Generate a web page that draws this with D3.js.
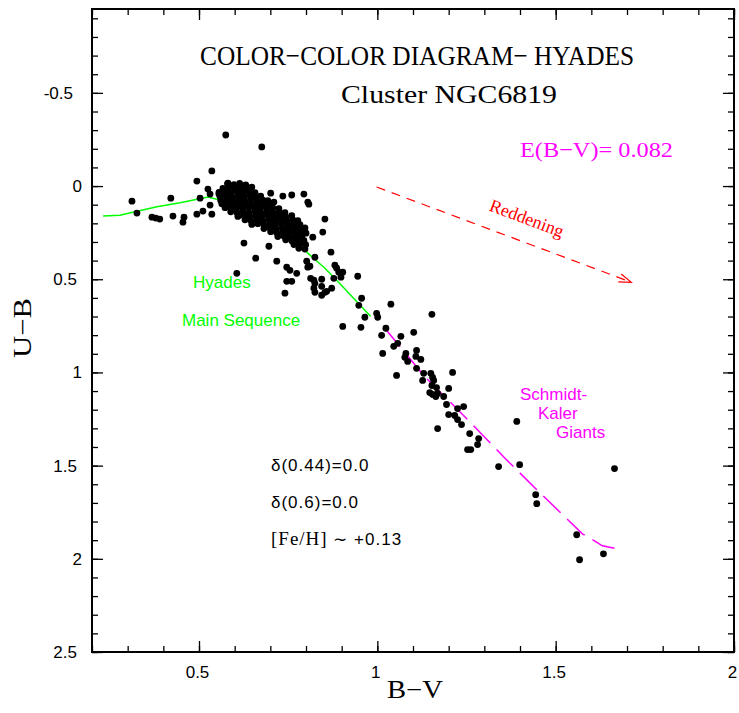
<!DOCTYPE html>
<html lang="en">
<head>
<meta charset="UTF-8">
<title>Color-color diagram - NGC6819</title>
<script src="https://d3js.org/d3.v7.min.js"></script>
<style>
  body { margin: 0; background: #fff; }
  svg { display: block; background: #fff; }
  .serif { font-family: "Liberation Serif", "DejaVu Serif", serif; }
  .sans { font-family: "Liberation Sans", Arial, sans-serif; }
  .tick line { stroke: #000; stroke-width: 1.3px; }
  .tick text { font-family: "Liberation Sans", Arial, sans-serif; font-size: 17px; fill: #000; }
</style>
</head>
<body>
<div id="chart"></div>
<script>
// tick labels
const xTicks = [0.5, 1, 1.5, 2];
const yTicks = [-0.5, 0, 0.5, 1, 1.5, 2, 2.5];

// Hyades main sequence (green)
const hyadesBV = [0.231, 0.278, 0.382, 0.447, 0.525, 0.581, 0.690, 0.777, 0.805, 0.853, 0.886, 0.981];
const hyadesUB = [0.161, 0.156, 0.111, 0.090, 0.059, 0.086, 0.199, 0.306, 0.360, 0.441, 0.505, 0.699];

// Schmidt-Kaler giants (magenta, dashed)
const giantsBV = [1.021, 1.133, 1.250, 1.362, 1.447, 1.575, 1.595, 1.631, 1.673];
const giantsUB = [0.763, 1.022, 1.247, 1.468, 1.629, 1.866, 1.887, 1.930, 1.946];

// reddening vector
const reddeningBV = [0.998, 1.712];
const reddeningUB = [0.005, 0.516];

// stars outside the dense core  [B-V, U-B]
const fieldStars = [
  [0.312,0.081],[0.326,0.145],[0.368,0.167],[0.379,0.172],[0.390,0.177],[0.421,0.065],[0.427,0.161],
  [0.455,0.194],[0.458,0.167],[0.494,-0.027],[0.503,0.065],[0.494,0.151],[0.511,0.134],[0.525,0.016],
  [0.531,0.043],[0.531,0.102],[0.536,0.151],[0.536,-0.081],[0.556,0.043],[0.575,-0.274],[0.676,-0.210],
  [0.581,-0.016],
  [0.701,0.038],[0.760,0.048],[0.794,0.043],[0.805,0.086],[0.808,0.097],[0.735,0.054],[0.710,0.086],
  [0.853,0.177],[0.847,0.247],[0.819,0.274],[0.626,0.306],[0.659,0.387],[0.718,0.403],[0.606,0.468],
  [0.696,0.323],[0.870,0.355],[0.825,0.382],[0.802,0.403],[0.805,0.435],[0.746,0.435],[0.755,0.452],
  [0.774,0.468],[0.813,0.495],[0.822,0.505],[0.746,0.511],[0.760,0.511],[0.741,0.575],[0.822,0.548],
  [0.825,0.570],[0.844,0.500],[0.844,0.538],[0.853,0.570],[0.844,0.586],[0.858,0.565],[0.872,0.548],
  [0.881,0.425],[0.886,0.441],[0.892,0.462],[0.903,0.462],[0.878,0.495],[0.898,0.489],[0.945,0.484],
  [0.956,0.602],[0.948,0.640],[0.965,0.704],[0.998,0.683],[1.001,0.704],[0.811,0.430],[0.825,0.522],
  [0.903,0.753],[0.954,0.758],[1.038,0.634],[1.024,0.763],[1.012,0.801],[1.066,0.806],[1.102,0.785],
  [1.153,0.688],[1.057,0.844],[1.046,0.860],[1.015,0.898],[1.080,0.898],[1.077,0.919],[1.085,0.941],
  [1.110,0.882],[1.108,0.914],[1.122,0.930],[1.054,1.016],[1.110,0.978],[1.130,1.005],[1.127,1.043],
  [1.150,1.005],[1.155,1.027],[1.158,1.043],[1.153,1.070],[1.166,1.081],[1.147,1.108],[1.155,1.118],
  [1.164,1.129],[1.169,1.113],[1.186,1.129],[1.211,1.000],[1.200,1.086],[1.194,1.172],[1.200,1.226],
  [1.225,1.194],[1.242,1.183],[1.217,1.231],[1.225,1.253],[1.236,1.280],[1.169,1.301],[1.259,1.328],
  [1.284,1.355],[1.281,1.387],[1.253,1.414],[1.262,1.414],[1.391,1.263],[1.340,1.505],[1.399,1.495],
  [1.665,1.516],[1.444,1.656],[1.447,1.704],[1.559,1.871],[1.567,2.005],[1.634,1.973]
];

// the crowded cluster core  [B-V, U-B]
const coreStars = [
  [0.580,-0.012],[0.598,-0.008],[0.614,-0.014],[0.631,-0.006],
  [0.567,0.012],[0.584,0.008],[0.601,0.014],[0.617,0.009],[0.634,0.013],[0.648,0.006],
  [0.556,0.034],[0.573,0.030],[0.589,0.035],[0.606,0.029],[0.623,0.033],[0.640,0.031],[0.657,0.036],
  [0.559,0.056],[0.575,0.052],[0.592,0.057],[0.609,0.053],[0.626,0.055],[0.643,0.051],[0.659,0.058],[0.673,0.054],
  [0.561,0.077],[0.578,0.073],[0.595,0.078],[0.612,0.074],[0.628,0.076],[0.645,0.072],[0.662,0.079],[0.679,0.075],[0.693,0.078],
  [0.564,0.095],[0.581,0.099],[0.598,0.096],[0.615,0.100],[0.631,0.094],[0.648,0.098],[0.665,0.095],[0.682,0.099],[0.699,0.096],
  [0.573,0.116],[0.589,0.120],[0.606,0.117],[0.623,0.121],[0.640,0.115],[0.657,0.119],[0.673,0.116],[0.690,0.120],[0.707,0.117],[0.724,0.121],
  [0.589,0.138],[0.606,0.142],[0.623,0.139],[0.640,0.143],[0.657,0.137],[0.673,0.141],[0.690,0.138],[0.707,0.142],[0.724,0.139],[0.741,0.143],
  [0.609,0.163],[0.626,0.159],[0.643,0.164],[0.659,0.160],[0.676,0.162],[0.693,0.158],[0.710,0.163],[0.727,0.160],[0.743,0.164],[0.760,0.159],
  [0.629,0.181],[0.645,0.185],[0.662,0.182],[0.679,0.186],[0.696,0.180],[0.713,0.184],[0.729,0.181],[0.746,0.185],[0.763,0.182],[0.777,0.186],
  [0.648,0.206],[0.665,0.202],[0.682,0.207],[0.699,0.203],[0.715,0.205],[0.732,0.201],[0.749,0.206],[0.766,0.203],[0.783,0.207],
  [0.682,0.228],[0.699,0.225],[0.715,0.229],[0.732,0.223],[0.749,0.227],[0.766,0.224],[0.783,0.228],[0.797,0.225],
  [0.701,0.245],[0.718,0.250],[0.735,0.246],[0.752,0.248],[0.768,0.244],[0.785,0.249],[0.800,0.253],
  [0.721,0.271],[0.738,0.268],[0.755,0.272],[0.771,0.266],[0.788,0.270],
  [0.743,0.288],[0.760,0.293],[0.777,0.289],[0.794,0.291],
  [0.766,0.314],[0.783,0.311],[0.799,0.315],
  [0.780,0.334],[0.797,0.338]
];

const width = 739, height = 713;
const plot = { left: 92, right: 734, top: 9, bottom: 652 };
const green = "#00ff00", magenta = "#ff00ff", red = "#ff0000";

const x = d3.scaleLinear().domain([0.2, 2.0]).range([plot.left, plot.right]);
const y = d3.scaleLinear().domain([-0.95, 2.5]).range([plot.top, plot.bottom]);
const fmt = d => String(d); // plain hyphen for negatives, as in the original

const svg = d3.select("#chart").append("svg")
    .attr("width", width)
    .attr("height", height);

// ticks, all pointing inward
const noDomain = g => g.select(".domain").remove();

svg.append("g").attr("transform", `translate(0,${plot.bottom})`)
    .call(d3.axisBottom(x).ticks(18).tickSize(-6).tickFormat("")).call(noDomain);
svg.append("g").attr("transform", `translate(0,${plot.bottom})`)
    .call(d3.axisBottom(x).tickValues(xTicks).tickSize(-11).tickPadding(14).tickFormat(fmt))
    .call(noDomain)
    .selectAll("text").attr("dx", "-2");

svg.append("g").attr("transform", `translate(0,${plot.top})`)
    .call(d3.axisTop(x).ticks(18).tickSize(-6).tickFormat("")).call(noDomain);
svg.append("g").attr("transform", `translate(0,${plot.top})`)
    .call(d3.axisTop(x).tickValues(xTicks).tickSize(-11).tickFormat("")).call(noDomain);

svg.append("g").attr("transform", `translate(${plot.left},0)`)
    .call(d3.axisLeft(y).ticks(34).tickSize(-6).tickFormat("")).call(noDomain);
svg.append("g").attr("transform", `translate(${plot.left},0)`)
    .call(d3.axisLeft(y).tickValues(yTicks).tickSize(-11).tickFormat(fmt))
    .call(noDomain)
    .selectAll("text")
    .attr("x", d => d < 0 ? -19 : Number.isInteger(d) ? -10 : -15);

svg.append("g").attr("transform", `translate(${plot.right},0)`)
    .call(d3.axisRight(y).ticks(34).tickSize(-6).tickFormat("")).call(noDomain);
svg.append("g").attr("transform", `translate(${plot.right},0)`)
    .call(d3.axisRight(y).tickValues(yTicks).tickSize(-11).tickFormat("")).call(noDomain);

// frame
svg.append("rect")
    .attr("x", plot.left).attr("y", plot.top)
    .attr("width", plot.right - plot.left).attr("height", plot.bottom - plot.top)
    .attr("fill", "none").attr("stroke", "#000").attr("stroke-width", 2);

// curves
const line = d3.line().x(d => x(d[0])).y(d => y(d[1]));

svg.append("path")
    .datum(d3.zip(hyadesBV, hyadesUB))
    .attr("d", line)
    .attr("fill", "none").attr("stroke", green).attr("stroke-width", 1.5);

svg.append("path")
    .datum(d3.zip(giantsBV, giantsUB))
    .attr("d", line)
    .attr("fill", "none").attr("stroke", magenta).attr("stroke-width", 1.5)
    .attr("stroke-dasharray", "24,9");

// stars
svg.append("g").selectAll("circle")
    .data(coreStars.concat(fieldStars))
    .join("circle")
    .attr("cx", d => x(d[0]))
    .attr("cy", d => y(d[1]))
    .attr("r", 3.4)
    .attr("fill", "#000");

// reddening arrow
const red0 = [x(reddeningBV[0]), y(reddeningUB[0])];
const red1 = [x(reddeningBV[1]), y(reddeningUB[1])];
svg.append("line")
    .attr("x1", red0[0]).attr("y1", red0[1])
    .attr("x2", red1[0]).attr("y2", red1[1])
    .attr("stroke", red).attr("stroke-width", 1.2)
    .attr("stroke-dasharray", "9,7");
const ang = Math.atan2(red1[1] - red0[1], red1[0] - red0[0]);
const barb = (a) => [red1[0] - 13 * Math.cos(ang + a), red1[1] - 13 * Math.sin(ang + a)];
const b1 = barb(0.33), b2 = barb(-0.33);
svg.append("path")
    .attr("d", `M${b1[0]},${b1[1]}L${red1[0]},${red1[1]}L${b2[0]},${b2[1]}`)
    .attr("fill", "none").attr("stroke", red).attr("stroke-width", 1.2);

const angDeg = ang * 180 / Math.PI;
svg.append("text").attr("class", "serif")
    .attr("transform", `translate(527,218) rotate(${angDeg})`)
    .attr("text-anchor", "middle").attr("dy", "0.35em")
    .attr("font-size", 18).attr("fill", red)
    .text("Reddening");

// titles
svg.append("text").attr("class", "serif")
    .attr("x", 200).attr("y", 65)
    .attr("font-size", 28)
    .attr("textLength", 434).attr("lengthAdjust", "spacingAndGlyphs")
    .text("COLOR\u2212COLOR DIAGRAM\u2212 HYADES");
svg.append("text").attr("class", "serif")
    .attr("x", 341).attr("y", 103)
    .attr("font-size", 26)
    .attr("textLength", 216).attr("lengthAdjust", "spacingAndGlyphs")
    .text("Cluster NGC6819");

svg.append("text").attr("class", "serif")
    .attr("x", 520).attr("y", 157)
    .attr("font-size", 22).attr("fill", magenta)
    .attr("textLength", 153).attr("lengthAdjust", "spacingAndGlyphs")
    .text("E(B\u2212V)= 0.082");

// labels
const hy = svg.append("g").attr("class", "sans").attr("font-size", 17).attr("fill", green);
hy.append("text").attr("x", 193).attr("y", 288).text("Hyades");
hy.append("text").attr("x", 182).attr("y", 326).text("Main Sequence");

const sk = svg.append("g").attr("class", "sans").attr("font-size", 17).attr("fill", magenta);
sk.append("text").attr("x", 520).attr("y", 400).text("Schmidt-");
sk.append("text").attr("x", 538).attr("y", 419).text("Kaler");
sk.append("text").attr("x", 556).attr("y", 438).text("Giants");

const notes = svg.append("g").attr("class", "sans").attr("font-size", 17).attr("fill", "#000")
    .attr("letter-spacing", 1);
notes.append("text").attr("x", 271).attr("y", 471).text("\u03b4(0.44)=0.0");
notes.append("text").attr("x", 271).attr("y", 508).text("\u03b4(0.6)=0.0");
const fe = notes.append("text").attr("x", 271).attr("y", 545);
fe.append("tspan").attr("class", "serif").attr("font-size", 19).text("[Fe/H]");
fe.append("tspan").text(" \u223c +0.13");

// axis titles
svg.append("text").attr("class", "serif")
    .attr("x", 415).attr("y", 698)
    .attr("text-anchor", "middle").attr("font-size", 25)
    .attr("textLength", 56).attr("lengthAdjust", "spacingAndGlyphs")
    .text("B\u2212V");
svg.append("text").attr("class", "serif")
    .attr("transform", "translate(31,328) rotate(-90)")
    .attr("text-anchor", "middle").attr("font-size", 25)
    .attr("textLength", 60).attr("lengthAdjust", "spacingAndGlyphs")
    .text("U\u2212B");
</script>
</body>
</html>
